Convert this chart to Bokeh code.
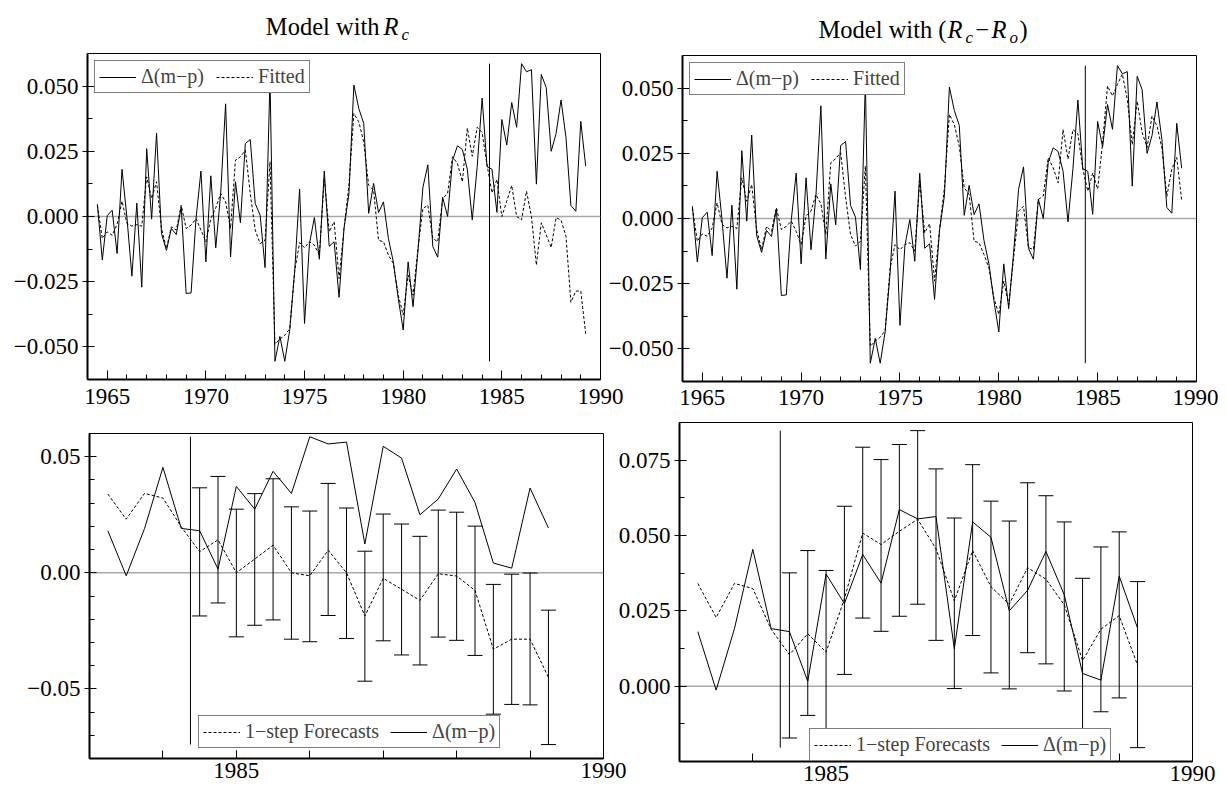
import numpy as np
from bokeh.plotting import figure
from bokeh.models import (Range1d, FixedTicker, Span, Label, Legend, LegendItem,
                          CustomJSTickFormatter)
from bokeh.layouts import row, column
from bokeh.embed import file_html
from bokeh.resources import INLINE

FONT = "Liberation Serif"

# ---------------- data (quarterly, first observation 1964 Q3) ----------------
first_obs = 1964.5
n_obs = 100
quarters = first_obs + 0.25 * np.arange(n_obs)
forecast_line_year = 1984.375      # start of the 1-step forecast period
n_bottom = 25                      # last 25 quarters shown in lower panels
n_bars = 20                        # last 20 quarters carry forecast intervals

dmp = [
    0.0047, -0.0167, 0.0003, 0.0024, -0.0142, 0.0181, -0.0005, -0.0229, 0.0051, -0.0271,
    0.0260, -0.0010, 0.0320, -0.0065, -0.0130, -0.0046, -0.0069, 0.0037, -0.0295, -0.0293,
    -0.0008, 0.0174, -0.0174, 0.0156, -0.0120, 0.0088, 0.0432, -0.0155, 0.0133, -0.0024,
    0.0280, 0.0295, 0.0050, 0.0005, -0.0196, 0.0529, -0.0555, -0.0460, -0.0555, -0.0435,
    -0.0210, 0.0105, -0.0410, -0.0104, -0.0004, -0.0164, 0.0174, -0.0114, -0.0097, -0.0310,
    -0.0046, 0.0088, 0.0504, 0.0414, 0.0357, 0.0012, 0.0127, 0.0015, 0.0056, -0.0084,
    -0.0174, -0.0314, -0.0435, -0.0174, -0.0346, -0.0130, 0.0112, 0.0198, -0.0115, -0.0156,
    0.0074, 0.0000, 0.0215, 0.0271, 0.0257, 0.0181, -0.0013, 0.0191, 0.0454, 0.0191,
    0.0181, 0.0016, 0.0372, 0.0274, 0.0437, 0.0342, 0.0586, 0.0555, 0.0563, 0.0124,
    0.0545, 0.0494, 0.0250, 0.0318, 0.0447, 0.0303, 0.0042, 0.0020, 0.0365, 0.0193,
]

# fitted values, model with Rc (1964Q3 - 1983Q1)
fitted_rc = [
    0.0043, -0.0084, -0.0059, -0.0072, -0.0030, 0.0059, -0.0027, -0.0037, -0.0031, -0.0037,
    0.0152, 0.0069, 0.0133, -0.0046, -0.0123, -0.0040, -0.0052, 0.0043, -0.0046, -0.0033,
    -0.0008, -0.0052, -0.0097, -0.0008, 0.0033, 0.0088, 0.0056, -0.0046, 0.0216, 0.0229,
    0.0254, 0.0088, -0.0052, -0.0104, -0.0091, 0.0210, -0.0490, -0.0470, -0.0455, -0.0430,
    -0.0210, -0.0100, -0.0120, -0.0097, -0.0110, -0.0148, 0.0146, -0.0059, -0.0020, -0.0238,
    -0.0046, 0.0120, 0.0395, 0.0363, 0.0286, 0.0120, 0.0101, -0.0091, -0.0097, -0.0148,
    -0.0180, -0.0302, -0.0378, -0.0225, -0.0302, -0.0123, 0.0031, 0.0043, -0.0084, -0.0097,
    0.0069, 0.0088, 0.0229, 0.0203, 0.0133,
]
# 1-step forecasts, model with Rc (1983Q2 - 1989Q2)
forecast_rc = [
    0.0339, 0.0231, 0.0342, 0.0322, 0.0198, 0.0091, 0.0142, 0.0000, 0.0059, 0.0119,
    0.0000, -0.0013, 0.0097, 0.0000, -0.0186, -0.0024, -0.0071, -0.0119, -0.0004, -0.0014,
    -0.0076, -0.0329, -0.0286, -0.0286, -0.0450,
]
upper_rc = [
    0.0366, 0.0415, 0.0274, 0.0341, 0.0405, 0.0284, 0.0266, 0.0385, 0.0279, 0.0093,
    0.0253, 0.0210, 0.0157, 0.0270, 0.0261, 0.0201, -0.0050, -0.0006, -0.0001, -0.0161,
]
lower_rc = [
    -0.0186, -0.0130, -0.0276, -0.0226, -0.0203, -0.0286, -0.0297, -0.0184, -0.0283, -0.0467,
    -0.0293, -0.0354, -0.0397, -0.0277, -0.0291, -0.0356, -0.0609, -0.0567, -0.0569, -0.0740,
]

# fitted values, model with (Rc - Ro)
fitted_rcro = [
    0.0040, -0.0087, -0.0059, -0.0068, -0.0036, 0.0060, -0.0023, -0.0036, -0.0030, -0.0038,
    0.0156, 0.0066, 0.0130, -0.0042, -0.0119, -0.0030, -0.0049, 0.0041, -0.0042, -0.0030,
    -0.0010, -0.0049, -0.0100, 0.0009, 0.0028, 0.0092, 0.0056, -0.0061, 0.0213, 0.0230,
    0.0252, 0.0082, -0.0061, -0.0106, -0.0087, 0.0201, -0.0490, -0.0470, -0.0455, -0.0430,
    -0.0190, -0.0100, -0.0120, -0.0100, -0.0093, -0.0125, 0.0143, -0.0055, -0.0020, -0.0240,
    -0.0042, 0.0118, 0.0399, 0.0360, 0.0277, 0.0118, 0.0092, -0.0087, -0.0093, -0.0138,
    -0.0190, -0.0304, -0.0368, -0.0240, -0.0330, -0.0150, 0.0028, 0.0047, -0.0112, -0.0119,
    0.0073, 0.0086, 0.0233, 0.0194, 0.0137,
]
forecast_rcro = [
    0.0341, 0.0228, 0.0341, 0.0324, 0.0189, 0.0105, 0.0174, 0.0113, 0.0290, 0.0508,
    0.0470, 0.0514, 0.0554, 0.0456, 0.0283, 0.0450, 0.0330, 0.0272, 0.0393, 0.0355,
    0.0270, 0.0085, 0.0189, 0.0234, 0.0070,
]
upper_rcro = [
    0.0376, 0.0450, 0.0384, 0.0597, 0.0793, 0.0752, 0.0802, 0.0848, 0.0721, 0.0558,
    0.0735, 0.0614, 0.0548, 0.0675, 0.0632, 0.0545, 0.0358, 0.0462, 0.0512, 0.0347,
]
lower_rcro = [
    -0.0172, -0.0097, -0.0162, 0.0039, 0.0226, 0.0182, 0.0232, 0.0272, 0.0152, -0.0008,
    0.0168, 0.0044, -0.0009, 0.0111, 0.0074, -0.0016, -0.0189, -0.0085, -0.0039, -0.0204,
]

label_actual = "\u0394(m\u2212p)"
label_fitted = "Fitted"
label_fc = "1\u2212step Forecasts"

top_x_major = [1965, 1970, 1975, 1980, 1985, 1990]
top_x_minor = list(range(1964, 1991))
top_y_major = [-0.05, -0.025, 0.0, 0.025, 0.05]
top_y_minor = [-0.0625, -0.0375, -0.0125, 0.0125, 0.0375, 0.0625]
bot_x_major = [1985, 1990]
bot_x_minor = list(range(1983, 1991))
bl_y_major = [-0.05, 0.0, 0.05]
bl_y_minor = [-0.08, -0.07, -0.06, -0.04, -0.03, -0.02, -0.01, 0.01, 0.02, 0.03, 0.04, 0.06]
br_y_major = [0.0, 0.025, 0.05, 0.075]
br_y_minor = [-0.0125, 0.0125, 0.0375, 0.0625, 0.0875]


def fmt(decimals):
    return CustomJSTickFormatter(
        code="return tick.toFixed(%d).replace('-', '\\u2212');" % decimals)


def base_fig(xr, yr, fw, fh, mbl, mbr, mbt, mbb):
    p = figure(x_range=Range1d(*xr), y_range=Range1d(*yr),
               frame_width=fw, frame_height=fh,
               min_border_left=mbl, min_border_right=mbr,
               min_border_top=mbt, min_border_bottom=mbb,
               output_backend="svg", toolbar_location=None, tools="")
    p.title = None
    p.grid.visible = False
    p.outline_line_color = "black"
    p.outline_line_width = 1
    p.background_fill_color = "white"
    p.border_fill_color = None
    for ax in (p.xaxis[0], p.yaxis[0]):
        ax.axis_line_color = "black"
        ax.axis_line_width = 2
        ax.major_tick_line_color = "black"
        ax.minor_tick_line_color = "black"
        ax.major_label_text_font = FONT
        ax.major_label_text_font_size = "23px"
        ax.major_label_text_color = "black"
    zero = Span(location=0, dimension="width", line_color="#a8a8a8", line_width=1.5,
                level="underlay")
    p.add_layout(zero)
    return p


def set_ticks(p, xmaj, xmin, ymaj, ymin, ydec, xin_major, xin_minor, xstand):
    xa, ya = p.xaxis[0], p.yaxis[0]
    xa.ticker = FixedTicker(ticks=xmaj, minor_ticks=xmin)
    xa.formatter = fmt(0)
    xa.major_tick_in, xa.major_tick_out = xin_major, 0
    xa.minor_tick_in, xa.minor_tick_out = xin_minor, 0
    xa.major_label_standoff = xstand
    ya.ticker = FixedTicker(ticks=ymaj, minor_ticks=ymin)
    ya.formatter = fmt(ydec)
    ya.major_tick_in, ya.major_tick_out = 7, 5
    ya.minor_tick_in, ya.minor_tick_out = 5, 0
    ya.major_label_standoff = 4


def make_legend(p, items, location, spacing=12, margin=7):
    lg = Legend(items=items, location=location, orientation="horizontal",
                label_text_font=FONT, label_text_font_size="20px",
                glyph_width=37, glyph_height=18, label_height=18,
                label_standoff=5, spacing=spacing, padding=4, margin=margin,
                border_line_color="black", border_line_width=1,
                background_fill_color="white", background_fill_alpha=1.0,
                level="underlay")
    p.add_layout(lg)


def top_panel(fitted, forecast, mbl, mbr, mbt, mbb, fw, xstand):
    p = base_fig((1964, 1990), (-0.0625, 0.0625), fw, 326, mbl, mbr, mbt, mbb)
    set_ticks(p, top_x_major, top_x_minor, top_y_major, top_y_minor, 3, 9, 5, xstand)
    fit_all = list(fitted) + list(forecast)
    r_a = p.line(quarters, dmp, line_color="black", line_width=1)
    r_f = p.line(quarters, fit_all, line_color="black", line_width=1, line_dash="3 2")
    lo = min(min(dmp), min(fit_all))
    hi = max(max(dmp), max(fit_all))
    p.segment(x0=[forecast_line_year], y0=[lo], x1=[forecast_line_year], y1=[hi],
              line_color="black", line_width=1)
    make_legend(p, [LegendItem(label=label_actual, renderers=[r_a]),
                    LegendItem(label=label_fitted, renderers=[r_f])], "top_left")
    return p


def bottom_panel(forecast, upper, lower, yr, ymaj, ymin, ydec, mbl, mbr, mbt, mbb,
                 fw, fh, leg_loc):
    p = base_fig((1983, 1990), yr, fw, fh, mbl, mbr, mbt, mbb)
    set_ticks(p, bot_x_major, bot_x_minor, ymaj, ymin, ydec, 8, 8, 4)
    xq = quarters[-n_bottom:]
    xb = quarters[-n_bars:]
    act = dmp[-n_bottom:]
    p.segment(x0=xb, y0=lower, x1=xb, y1=upper, line_color="black", line_width=1)
    p.scatter(xb, upper, marker="dash", size=15, line_color="black", line_width=1)
    p.scatter(xb, lower, marker="dash", size=15, line_color="black", line_width=1)
    r_f = p.line(xq, forecast, line_color="black", line_width=1, line_dash="3 2")
    r_a = p.line(xq, act, line_color="black", line_width=1)
    lo = min(min(lower), min(act), min(forecast))
    hi = max(max(upper), max(act), max(forecast))
    p.segment(x0=[forecast_line_year], y0=[lo], x1=[forecast_line_year], y1=[hi],
              line_color="black", line_width=1)
    make_legend(p, [LegendItem(label=label_fc, renderers=[r_f]),
                    LegendItem(label=label_actual, renderers=[r_a])], leg_loc,
                spacing=11, margin=0)
    return p


# ---------------- title strip (pixel coordinates) ----------------
TITLE_W, TITLE_H = 1218, 52
title_left = [  # (text, x, baseline-from-bottom, italic, subscript, align)
    ("Model with", 379, 26, False, False, "right"),
    ("R", 383, 26, True, False, "left"),
    ("c", 401, 18, True, True, "left"),
]
title_right = [
    ("Model with (", 946, 23, False, False, "right"),
    ("R", 947, 23, True, False, "left"),
    ("c", 965, 15, True, True, "left"),
    ("\u2212", 975, 23, False, False, "left"),
    ("R", 991, 23, True, False, "left"),
    ("o", 1009, 15, True, True, "left"),
    (")", 1019, 23, False, False, "left"),
]

tf = figure(width=TITLE_W, height=TITLE_H, x_range=Range1d(0, TITLE_W),
            y_range=Range1d(0, TITLE_H), min_border=0, output_backend="svg",
            toolbar_location=None, tools="", x_axis_type=None, y_axis_type=None)
tf.title = None
tf.grid.visible = False
tf.outline_line_color = None
tf.background_fill_color = None
tf.border_fill_color = None
for text, x, y, italic, sub, align in title_left + title_right:
    tf.add_layout(Label(x=x, y=y, text=text, text_font=FONT,
                        text_font_size="17px" if sub else "24.5px",
                        text_font_style="italic" if italic else "normal",
                        text_align=align, text_baseline="alphabetic",
                        text_color="black"))

p1 = top_panel(fitted_rc, forecast_rc, 87, 24, 1, 35, 513, 9)
p2 = top_panel(fitted_rcro, forecast_rcro, 82, 22, 1, 35, 514, 8)
p2.margin = (2, 0, 0, -24)

p3 = bottom_panel(forecast_rc, upper_rc, lower_rc, (-0.08, 0.06), bl_y_major, bl_y_minor, 2,
                  89, 24, 17, 29, 514, 325, (109, 10))
p4 = bottom_panel(forecast_rcro, upper_rcro, lower_rcro, (-0.025, 0.0875), br_y_major,
                  br_y_minor, 3, 76, 24, 17, 29, 513, 339, (130, 0))
p4.margin = (-11, 0, 0, -24)

layout = column(tf, row(p1, p2), row(p3, p4))
open("out.html", "w").write(file_html(layout, INLINE))
